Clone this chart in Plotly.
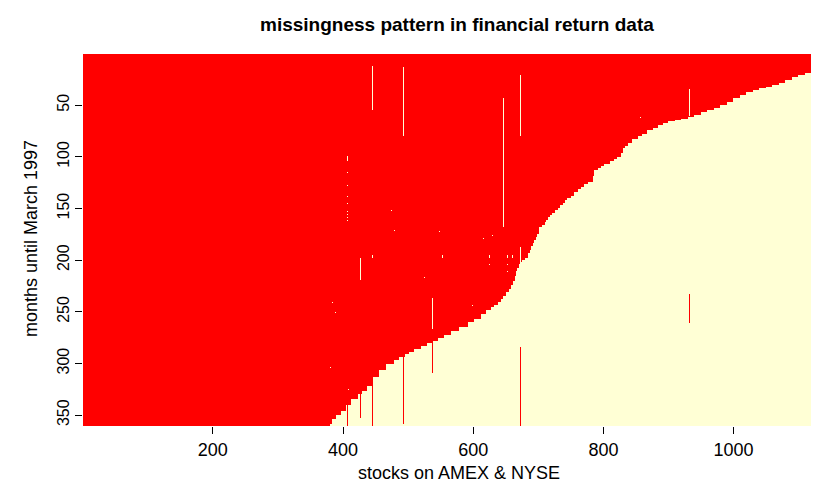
import numpy as np
import plotly.graph_objects as go

# ---- data -------------------------------------------------------------
n_stocks = 1143
n_months = 360

# first stock of each run and the number of observed months (from month 1)
boundary_stock = [1, 380, 384, 389, 397, 405, 413, 423, 430, 438,
                  446, 456, 466, 479, 487, 495, 502, 510, 520, 530,
                  538, 546, 556, 566, 579, 592, 602, 612, 620, 628,
                  633, 638, 643, 647, 651, 655, 658, 661, 664, 666,
                  668, 671, 674, 676, 680, 684, 687, 689, 692, 694,
                  697, 699, 701, 702, 706, 710, 712, 715, 719, 722,
                  726, 730, 734, 738, 742, 745, 750, 756, 761, 766,
                  771, 777, 784, 786, 792, 797, 802, 810, 817, 822,
                  827, 830, 834, 838, 845, 853, 860, 868, 876, 884,
                  892, 899, 910, 920, 930, 940, 950, 960, 970, 980,
                  990, 1000, 1010, 1020, 1030, 1040, 1050, 1060, 1070, 1080,
                  1090, 1100, 1110, 1120, 1130]
boundary_months = [360, 358, 353, 349, 345, 340, 334, 329, 326, 321,
                   313, 306, 300, 296, 293, 290, 288, 285, 283, 280,
                   278, 275, 272, 268, 264, 259, 256, 252, 248, 245,
                   243, 240, 237, 234, 230, 227, 224, 220, 215, 210,
                   207, 203, 201, 199, 197, 193, 190, 186, 183, 180,
                   177, 174, 170, 167, 165, 163, 161, 158, 156, 154,
                   151, 149, 146, 144, 141, 139, 137, 134, 131, 129,
                   126, 124, 118, 112, 110, 108, 106, 104, 102, 100,
                   96, 91, 89, 86, 82, 79, 77, 74, 72, 69,
                   67, 65, 64, 63, 61, 59, 56, 54, 52, 49,
                   46, 43, 40, 37, 35, 33, 32, 30, 28, 25,
                   22, 20, 18, 17, 16]
assert len(boundary_stock) == len(boundary_months)

# missing stretches inside the observed (red) block: stock, first month, last month
gap_stock = [417, 445, 493, 647, 673, 673, 407, 407, 407, 407, 407, 407, 407, 407, 407,
             427, 537, 932, 857,
             445, 506, 520, 529, 553, 625, 644, 653, 660,
             474, 479, 548, 472, 525, 616, 630, 644, 625, 644, 653, 653, 599,
             384, 388, 381, 408, 489, 572]
gap_from = [21, 13, 14, 44, 21, 188, 100, 115, 128, 138, 145, 153, 156, 159, 162,
            198, 237, 35, 62,
            196, 196, 196, 196, 196, 196, 196, 196, 196,
            152, 171, 172, 204, 217, 179, 176, 178, 204, 205, 204, 211, 244,
            241, 251, 304, 325, 283, 257]
gap_to = [44, 54, 79, 167, 79, 204, 104, 115, 128, 138, 145, 153, 156, 159, 162,
          219, 266, 60, 62,
          197, 197, 197, 197, 197, 197, 197, 197, 197,
          152, 171, 172, 204, 217, 179, 176, 178, 204, 205, 204, 211, 244,
          241, 251, 304, 325, 283, 257]

# observed stretches beyond the end of a stock's main history
extra_stock = [407, 417, 427, 445, 493, 537, 649, 673, 932]
extra_from = [340, 338, 330, 317, 292, 280, 234, 285, 233]
extra_to = [360, 360, 352, 360, 358, 309, 360, 360, 260]

x_ticks = [200, 400, 600, 800, 1000]
y_ticks = [50, 100, 150, 200, 250, 300, 350]

title_text = "missingness pattern in financial return data"
x_title = "stocks on AMEX &amp; NYSE"
y_title = "months until March 1997"

red = "#FF0000"
cream = "#FFFFD5"

# ---- build the 0/1 matrix ---------------------------------------------
z = np.zeros((n_months, n_stocks))
for k, (s0, L) in enumerate(zip(boundary_stock, boundary_months)):
    s1 = boundary_stock[k + 1] if k + 1 < len(boundary_stock) else n_stocks + 1
    z[:L, s0 - 1:s1 - 1] = 1
for s, a, b in zip(extra_stock, extra_from, extra_to):
    z[a - 1:b, s - 1] = 1
for s, a, b in zip(gap_stock, gap_from, gap_to):
    z[a - 1:b, s - 1] = 0

fig = go.Figure(go.Heatmap(
    x=np.arange(1, n_stocks + 1),
    y=np.arange(1, n_months + 1),
    z=z,
    zmin=0, zmax=1,
    colorscale=[[0, cream], [1, red]],
    showscale=False,
    zsmooth=False,
    hoverinfo="skip",
))

font_family = "Liberation Sans, Arial, Helvetica, sans-serif"

fig.update_layout(
    width=819, height=482,
    margin=dict(l=75, r=0, t=46, b=64),
    paper_bgcolor="white", plot_bgcolor="white",
    font=dict(family=font_family, size=17, color="black"),
    showlegend=False,
    annotations=[
        dict(text="<b>" + title_text + "</b>", x=0.503, y=1.0806, xref="paper", yref="paper",
             xanchor="center", yanchor="middle", showarrow=False,
             font=dict(size=19, family=font_family, color="black")),
        dict(text=x_title, x=0.505, y=-0.125, xref="paper", yref="paper",
             xanchor="center", yanchor="middle", showarrow=False,
             font=dict(size=18, family=font_family, color="black")),
        dict(text=y_title, x=-0.07, y=0.505, xref="paper", yref="paper",
             xanchor="center", yanchor="middle", showarrow=False, textangle=-90,
             font=dict(size=18, family=font_family, color="black")),
    ],
)
fig.update_xaxes(
    range=[0.5, n_stocks + 0.5], tickvals=x_ticks, ticktext=[str(v) for v in x_ticks],
    ticks="outside", ticklen=7, tickwidth=1, tickcolor="black",
    showgrid=False, zeroline=False, showline=False,
    tickfont=dict(size=18, family=font_family, color="black"),
)
fig.update_yaxes(
    range=[n_months + 0.5, 0.5], tickvals=y_ticks, ticktext=[str(v) for v in y_ticks],
    ticks="outside", ticklen=7, tickwidth=1, tickcolor="black", tickangle=-90,
    showgrid=False, zeroline=False, showline=False,
    tickfont=dict(size=16, family=font_family, color="black"),
)

fig.write_html("out.html")
